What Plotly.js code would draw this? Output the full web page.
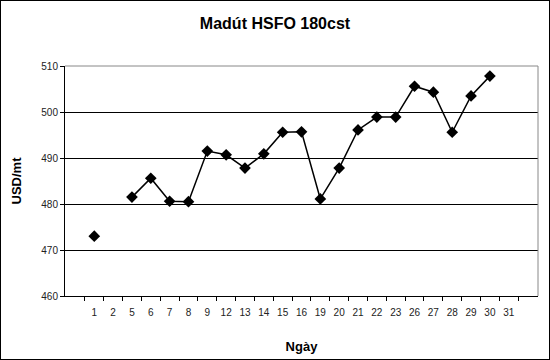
<!DOCTYPE html>
<html><head><meta charset="utf-8">
<script src="https://cdn.plot.ly/plotly-3.0.1.min.js"></script>
<style>body{margin:0;}#wrap{position:relative;width:550px;height:360px;}#frame{position:absolute;left:0;top:0;width:550px;height:360px;border:1px solid #000;box-sizing:border-box;pointer-events:none;}</style>
</head><body>
<div id="wrap"><div id="chart" style="width:550px;height:360px;"></div><div id="frame"></div></div>
<script>
const days = ["1","2","5","6","7","8","9","12","13","14","15","16","19","20","21","22","23","26","27","28","29","30","31"];
const prices = [473.0,null,481.5,485.6,480.6,480.5,491.5,490.7,487.8,490.9,495.6,495.7,481.1,487.8,496.1,498.9,498.9,505.6,504.3,495.6,503.5,507.8,null];
const yTicks = [460,470,480,490,500,510];
const FONT = "Liberation Sans, Arial, sans-serif";

Plotly.newPlot("chart", [{
  x: days, y: prices, type: "scatter", mode: "lines+markers",
  connectgaps: false,
  line: {color: "#000", width: 1.5},
  marker: {symbol: "diamond", size: 9, color: "#000"}
}], {
  width: 550, height: 360,
  margin: {l: 65, r: 12, t: 66, b: 64},
  paper_bgcolor: "#fff", plot_bgcolor: "#fff",
  showlegend: false,
  font: {family: FONT, color: "#000", size: 10},
  title: {text: "<b>Madút HSFO 180cst</b>", font: {family: FONT, size: 16, color: "#000"}, x: 0.5, xref: "container", y: 0.935, yref: "container", yanchor: "middle"},
  xaxis: {
    type: "category", categoryorder: "array", categoryarray: days,
    tickson: "boundaries", ticks: "outside", ticklen: 4, tickcolor: "#000",
    tickangle: 0, ticklabelstandoff: 7,
    showline: true, linecolor: "#000", linewidth: 1, mirror: false,
    showgrid: false, zeroline: false,
    tickfont: {family: FONT, size: 10, color: "#222"},
    title: {text: "<b>Ngày</b>", font: {family: FONT, size: 13, color: "#000"}, standoff: 24}
  },
  yaxis: {
    range: [460, 510], tickvals: yTicks, ticktext: yTicks.map(String),
    ticks: "outside", ticklen: 4, tickcolor: "#000",
    showline: true, linecolor: "#000", linewidth: 1,
    showgrid: true, gridcolor: "#000", gridwidth: 1, zeroline: false,
    tickfont: {family: FONT, size: 10, color: "#222"},
    title: {text: "<b>USD/mt</b>", font: {family: FONT, size: 13, color: "#000"}, standoff: 16}
  },
  shapes: [
    {type: "line", xref: "paper", yref: "paper", x0: 0, x1: 1, y0: 1, y1: 1, line: {color: "#888", width: 1}},
    {type: "line", xref: "paper", yref: "paper", x0: 1, x1: 1, y0: 0, y1: 1, line: {color: "#888", width: 1}}
  ]
}, {displayModeBar: false, staticPlot: true});
</script>
</body></html>
